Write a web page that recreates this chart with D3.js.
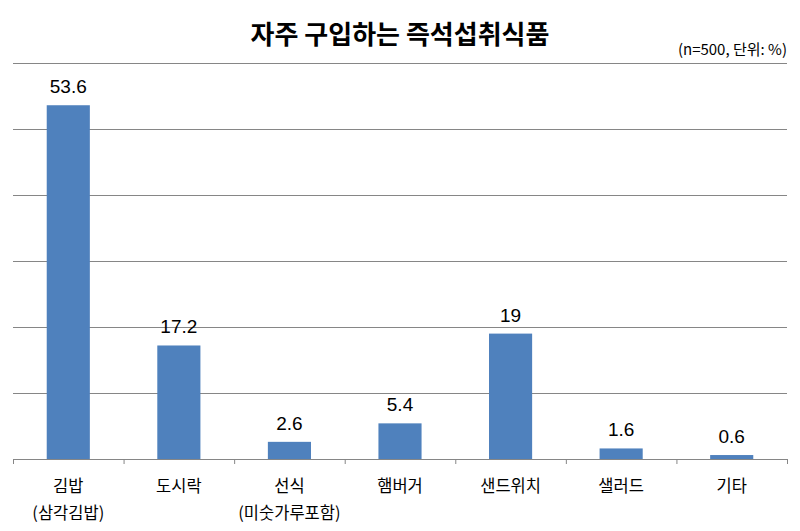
<!DOCTYPE html>
<html>
<head>
<meta charset="utf-8">
<script src="https://cdn.jsdelivr.net/npm/d3@7"></script>
<style>
  html, body { margin: 0; padding: 0; background: #fff; }
  svg { display: block; }
</style>
</head>
<body>
<svg id="chart" width="800" height="531"></svg>
<script>
const categories = ["김밥\n(삼각김밥)", "도시락", "선식\n(미숫가루포함)", "햄버거", "샌드위치", "샐러드", "기타"];
const values = [53.6, 17.2, 2.6, 5.4, 19, 1.6, 0.6];
const gridTicks = [10, 20, 30, 40, 50, 60];
const titleText = "자주 구입하는 즉석섭취식품";
const subtitleText = "(n=500, 단위: %)";

(function () {
const svg = d3.select("#chart");
const plotLeft = 13, plotRight = 787, plotTop = 63, plotBottom = 459;
const korFont = "'Noto Sans CJK KR', 'Noto Sans', sans-serif";
const numFont = "'Liberation Sans', Arial, sans-serif";
const gridColor = "#868686";
const barColor = "#4F81BD";

const x = d3.scaleBand().domain(categories).range([plotLeft, plotRight]).paddingInner(0.61).paddingOuter(0.305);
const y = d3.scaleLinear().domain([0, 60]).range([plotBottom, plotTop]);

// title
svg.append("text").attr("x", 400).attr("y", 44).attr("text-anchor", "middle")
  .attr("font-family", korFont).attr("font-weight", 700).attr("font-size", 26)
  .attr("fill", "#000").text(titleText);
svg.append("text").attr("x", plotRight).attr("y", 55).attr("text-anchor", "end")
  .attr("font-family", korFont).attr("font-size", 15).attr("fill", "#000").text(subtitleText);

// gridlines
const grid = svg.append("g").attr("transform", `translate(${plotLeft},0)`)
  .call(d3.axisLeft(y).tickValues(gridTicks).tickSize(-(plotRight - plotLeft)).tickFormat(""));
grid.select(".domain").remove();
grid.selectAll(".tick line").attr("stroke", gridColor).attr("stroke-width", 1);

// bars
svg.append("g").selectAll("rect").data(values).join("rect")
  .attr("x", (d, i) => x(categories[i]))
  .attr("y", d => y(d))
  .attr("width", x.bandwidth())
  .attr("height", d => y(0) - y(d))
  .attr("fill", barColor);

// value labels
svg.append("g").selectAll("text").data(values).join("text")
  .attr("x", (d, i) => x(categories[i]) + x.bandwidth() / 2)
  .attr("y", d => y(d) - 12)
  .attr("text-anchor", "middle")
  .attr("font-family", numFont).attr("font-size", 19).attr("fill", "#000")
  .text(d => String(d));

// x axis with boundary ticks
const xb = d3.scaleLinear().domain([0, categories.length]).range([plotLeft, plotRight]);
const xa = svg.append("g").attr("transform", `translate(0,${plotBottom})`)
  .call(d3.axisBottom(xb).tickValues(d3.range(categories.length + 1)).tickSize(5).tickSizeOuter(0).tickFormat(""));
xa.select(".domain").attr("stroke", gridColor);
xa.selectAll(".tick line").attr("stroke", gridColor);

// category labels
const cl = svg.append("g").selectAll("text").data(categories).join("text")
  .attr("x", d => x(d) + x.bandwidth() / 2)
  .attr("y", 492)
  .attr("text-anchor", "middle")
  .attr("font-family", korFont).attr("font-size", 16.5).attr("fill", "#000");
cl.each(function (d) {
  const t = d3.select(this);
  d.split("\n").forEach((ln, k) => {
    t.append("tspan").attr("x", x(d) + x.bandwidth() / 2).attr("y", 492 + k * 27).text(ln);
  });
});
})();
</script>
</body>
</html>
